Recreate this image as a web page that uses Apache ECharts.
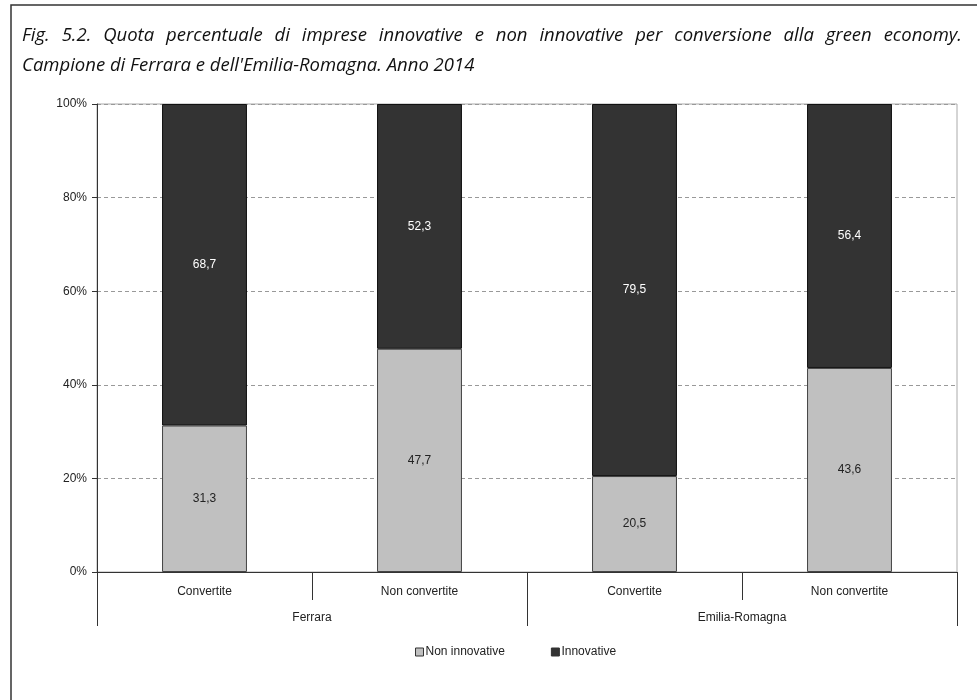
<!DOCTYPE html>
<html>
<head>
<meta charset="utf-8">
<script src="https://cdn.jsdelivr.net/npm/echarts@6/dist/echarts.min.js"></script>
<style>
  html, body { margin: 0; padding: 0; background: #fff; }
  #chart { width: 977px; height: 700px; }
</style>
</head>
<body>
<div id="chart"></div>
<script>
// categorie (livello basso e livello alto)
var categorie = ["Convertite", "Non convertite", "Convertite", "Non convertite"];
var gruppi = ["Ferrara", "Emilia-Romagna"];
// quote percentuali
var nonInnovative = [31.3, 47.7, 20.5, 43.6];
var innovative = [68.7, 52.3, 79.5, 56.4];
var yTicks = [0, 20, 40, 60, 80, 100];

var titolo1 = "Fig. 5.2. Quota percentuale di imprese innovative e non innovative per conversione alla green economy.";
var titolo2 = "Campione di Ferrara e dell'Emilia-Romagna. Anno 2014";

var myChart = echarts.init(document.getElementById("chart"));
var fmt = function (p) { return String(p.value).replace(".", ","); };
var labelStyle = { show: true, position: "inside", formatter: fmt, color: "#222", fontFamily: "Arial, Liberation Sans", fontSize: 12 };

// titolo giustificato: parole distribuite sulla larghezza del riquadro
var titleFont = "italic 18.5px 'Open Sans'";
function justified (text, x0, x1, top) {
    var ctx = document.createElement("canvas").getContext("2d");
    ctx.font = titleFont;
    var words = text.split(" ");
    var widths = words.map(function (w) { return ctx.measureText(w).width; });
    var sum = widths.reduce(function (a, b) { return a + b; }, 0);
    var gap = (x1 - x0 - sum) / (words.length - 1);
    var out = [];
    var x = x0;
    words.forEach(function (w, i) {
        out.push({ type: "text", left: x, top: top, style: { text: w, font: titleFont, fill: "#111" } });
        x += widths[i] + gap;
    });
    return out;
}

var graphics = [
    { type: "rect", shape: { x: 11, y: 5, width: 1000, height: 720 }, style: { fill: "none", stroke: "#333", lineWidth: 1.5 } }
].concat(justified(titolo1, 22, 962, 26)).concat([
    { type: "text", left: 22, top: 56, style: { text: titolo2, font: titleFont, fill: "#111" } }
]);

var option = {
    animation: false,
    graphic: graphics,
    legend: {
        left: 410,
        top: 641,
        icon: "rect",
        itemWidth: 8,
        itemHeight: 8,
        itemGap: 46,
        itemStyle: { borderColor: "#333", borderWidth: 1 },
        textStyle: { fontFamily: "Arial, Liberation Sans", fontSize: 12, color: "#222", padding: [0, 0, 0, -3] },
        data: ["Non innovative", "Innovative"]
    },
    grid: { left: 97, right: 20, top: 104, bottom: 128, show: true, borderColor: "#aaa", borderWidth: 1 },
    xAxis: [
        {
            type: "category",
            data: categorie,
            position: "bottom",
            axisLine: { lineStyle: { color: "#333", width: 1 } },
            axisTick: { show: true, length: 28, interval: 0, lineStyle: { color: "#333" } },
            axisLabel: { interval: 0, margin: 14, color: "#222", fontFamily: "Arial, Liberation Sans", fontSize: 12 }
        },
        {
            type: "category",
            data: gruppi,
            position: "bottom",
            axisLine: { show: false },
            axisTick: { show: true, length: 54, interval: 0, lineStyle: { color: "#333" } },
            axisLabel: { interval: 0, margin: 40, color: "#222", fontFamily: "Arial, Liberation Sans", fontSize: 12 }
        }
    ],
    yAxis: {
        type: "value",
        min: yTicks[0],
        max: yTicks[yTicks.length - 1],
        interval: 20,
        axisLine: { show: true, lineStyle: { color: "#333" } },
        axisTick: { show: true, length: 5, lineStyle: { color: "#333" } },
        axisLabel: { formatter: "{value}%", color: "#222", fontFamily: "Arial, Liberation Sans", fontSize: 12, margin: 10 },
        splitLine: { show: true, lineStyle: { color: "#999", type: [4, 3] } }
    },
    series: [
        {
            name: "Non innovative",
            type: "bar",
            stack: "tot",
            barWidth: "39.5%",
            data: nonInnovative,
            itemStyle: { color: "#c0c0c0", borderColor: "#444", borderWidth: 1 },
            label: labelStyle
        },
        {
            name: "Innovative",
            type: "bar",
            stack: "tot",
            barWidth: "39.5%",
            data: innovative,
            itemStyle: { color: "#333333", borderColor: "#111", borderWidth: 1 },
            label: { show: true, position: "inside", formatter: fmt, color: "#fff", fontFamily: "Arial, Liberation Sans", fontSize: 12 }
        }
    ]
};
myChart.setOption(option);
</script>
</body>
</html>
